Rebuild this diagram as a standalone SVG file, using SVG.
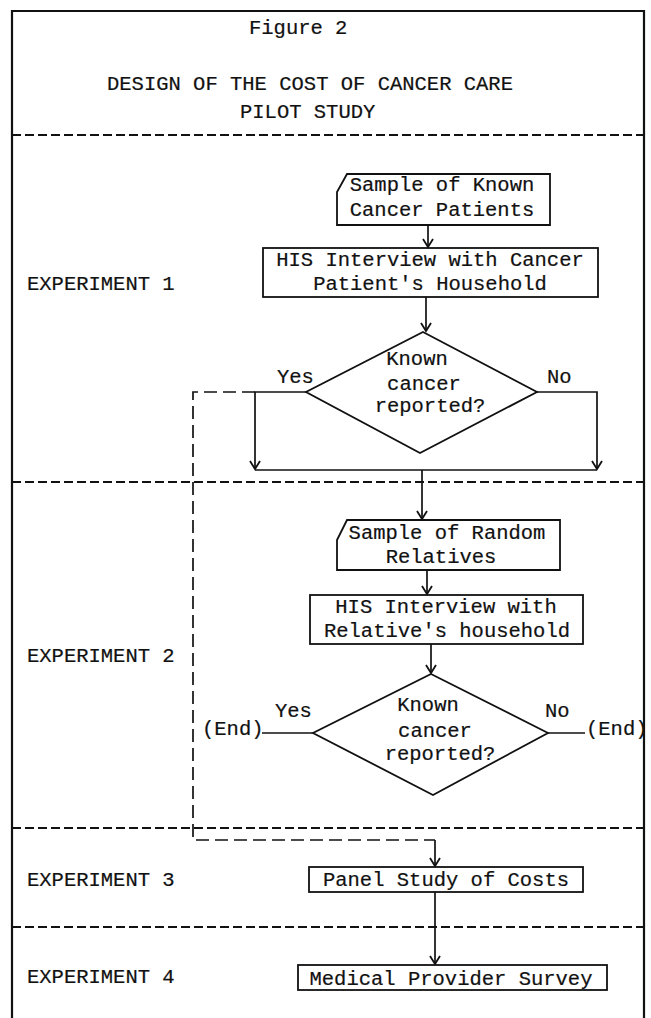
<svg xmlns="http://www.w3.org/2000/svg" width="651" height="1018" viewBox="0 0 651 1018">
<style>
text{font-family:"Liberation Mono","DejaVu Sans Mono",monospace;font-size:20.5px;fill:#111;stroke:#111;stroke-width:0.2}
.m{text-anchor:middle}
.box{fill:#fff;stroke:#111;stroke-width:1.8}
.sep{fill:none;stroke:#111;stroke-width:2;stroke-dasharray:9 4}
.ln{fill:none;stroke:#111;stroke-width:1.7}
.dsh{fill:none;stroke:#111;stroke-width:1.7;stroke-dasharray:13 6}
.frame{fill:none;stroke:#111;stroke-width:2.2}
</style>
<defs>
<marker id="ah" viewBox="-10 -6 12 12" markerWidth="12" markerHeight="12" refX="0" refY="0" orient="auto" markerUnits="userSpaceOnUse">
<path d="M-8,-5 L0,0 L-8,5" fill="none" stroke="#111" stroke-width="1.8"/>
</marker>
</defs>
<rect width="651" height="1018" fill="#fff"/>
<g id="frame">
<path class="frame" d="M12,1018 V11 H644 V1018"/>
<path class="sep" d="M12,135 H644"/>
<path class="sep" d="M12,482 H644"/>
<path class="sep" d="M12,828 H644"/>
<path class="sep" d="M12,927 H644"/>
</g>
<g id="title">
<text x="249" y="34">Figure 2</text>
<text x="107" y="90">DESIGN OF THE COST OF CANCER CARE</text>
<text x="240" y="118">PILOT STUDY</text>
</g>
<g id="labels">
<text x="27" y="290">EXPERIMENT 1</text>
<text x="27" y="662">EXPERIMENT 2</text>
<text x="27" y="886">EXPERIMENT 3</text>
<text x="27" y="983">EXPERIMENT 4</text>
</g>
<g id="connectors">
<path class="ln" d="M428,225 V247" marker-end="url(#ah)"/>
<path class="ln" d="M426,297 V331" marker-end="url(#ah)"/>
<path class="ln" d="M306,392 H255 V469" marker-end="url(#ah)"/>
<path class="ln" d="M537,392 H597 V469" marker-end="url(#ah)"/>
<path class="ln" d="M255,470 H597"/>
<path class="ln" d="M422,470 V519" marker-end="url(#ah)"/>
<path class="ln" d="M427,570 V594" marker-end="url(#ah)"/>
<path class="ln" d="M431,644 V673" marker-end="url(#ah)"/>
<path class="ln" d="M313,733 H262"/>
<path class="ln" d="M548,733 H585"/>
<path class="dsh" d="M255,392 H193 V840 H435"/>
<path class="ln" d="M435,840 V866" marker-end="url(#ah)"/>
<path class="ln" d="M435,892 V964" marker-end="url(#ah)"/>
</g>
<g id="n-sample-known">
<path class="box" d="M347,174 H550 V225 H337 V192 Z"/>
<text class="m" x="442" y="191">Sample of Known</text>
<text class="m" x="442" y="216">Cancer Patients</text>
</g>
<g id="n-his-cancer">
<rect class="box" x="263" y="248" width="335" height="49"/>
<text class="m" x="430" y="266">HIS Interview with Cancer</text>
<text class="m" x="430" y="290">Patient's Household</text>
</g>
<g id="n-decision-1">
<path class="box" d="M423,332 L537,392 L420,453 L306,392 Z"/>
<text class="m" x="417" y="365">Known</text>
<text class="m" x="424" y="390">cancer</text>
<text class="m" x="430" y="412">reported?</text>
<text x="277" y="383">Yes</text>
<text x="547" y="383">No</text>
</g>
<g id="n-sample-relatives">
<path class="box" d="M347,520 H560 V570 H337 V540 Z"/>
<text class="m" x="447" y="539">Sample of Random</text>
<text class="m" x="441" y="563">Relatives</text>
</g>
<g id="n-his-relative">
<rect class="box" x="310" y="595" width="273" height="49"/>
<text class="m" x="446" y="613">HIS Interview with</text>
<text class="m" x="447" y="637">Relative's household</text>
</g>
<g id="n-decision-2">
<path class="box" d="M431,674 L548,733 L433,795 L313,733 Z"/>
<text class="m" x="428" y="711">Known</text>
<text class="m" x="435" y="737">cancer</text>
<text class="m" x="440" y="760">reported?</text>
<text x="275" y="717">Yes</text>
<text x="545" y="717">No</text>
</g>
<g id="n-end-left">
<text x="202" y="735">(End)</text>
</g>
<g id="n-end-right">
<text x="586" y="735">(End)</text>
</g>
<g id="n-panel">
<rect class="box" x="309" y="867" width="274" height="25"/>
<text class="m" x="446" y="886">Panel Study of Costs</text>
</g>
<g id="n-provider">
<rect class="box" x="298" y="965" width="309" height="25"/>
<text class="m" x="451" y="985">Medical Provider Survey</text>
</g>
</svg>
